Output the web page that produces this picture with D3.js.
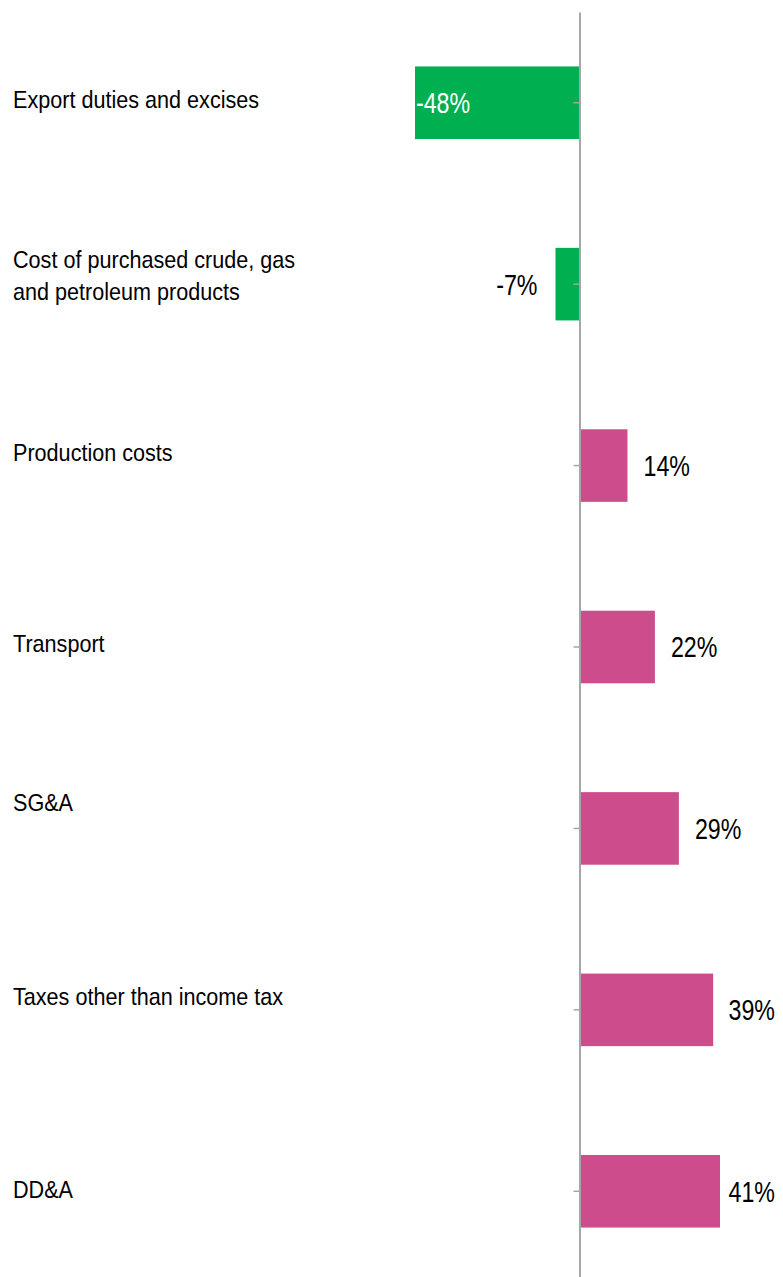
<!DOCTYPE html>
<html>
<head>
<meta charset="utf-8">
<script src="https://cdn.jsdelivr.net/npm/d3@7"></script>
<style>
  html, body { margin: 0; padding: 0; background: #ffffff; }
  svg { display: block; }
  text { font-family: "Liberation Sans", Arial, sans-serif; }
</style>
</head>
<body>
<svg id="chart" width="783" height="1277"></svg>
<script>
// Cost items and their year-on-year change, %
const categories = [
  "Export duties and excises",
  "Cost of purchased crude, gas\nand petroleum products",
  "Production costs",
  "Transport",
  "SG&A",
  "Taxes other than income tax",
  "DD&A"
];
const changes = [-48, -7, 14, 22, 29, 39, 41];
const valueLabels = ["-48%", "-7%", "14%", "22%", "29%", "39%", "41%"];

// Baseline shift of each category caption relative to its row centre (px)
const captionShift = [5, 0, -5, 5, -17, -5, 7];

const W = 783, H = 1277;
const zeroX = 579.5;
const svg = d3.select("#chart");

// condensed typeface look: horizontal squeeze of the text
const CAP_SQUEEZE = 0.9;
const VAL_SQUEEZE = 0.8;

const x = d3.scaleLinear()
  .domain([-48, 41])
  .range([zeroX - 48 * 3.427, zeroX + 41 * 3.427]);

const y = d3.scaleBand()
  .domain(categories)
  .range([12, 1282])
  .paddingInner(0.6)
  .paddingOuter(0.3);

const GREEN = "#00b050";
const PINK = "#cc4c8c";

const rows = categories.map((c, i) => ({ cat: c, v: changes[i], label: valueLabels[i], shift: captionShift[i] }));

// bars
svg.append("g").selectAll("rect")
  .data(rows)
  .join("rect")
  .attr("x", d => x(Math.min(0, d.v)))
  .attr("width", d => Math.abs(x(d.v) - x(0)))
  .attr("y", d => y(d.cat))
  .attr("height", y.bandwidth())
  .attr("fill", d => d.v < 0 ? GREEN : PINK);

// vertical zero axis with small ticks on the left
const axis = svg.append("g")
  .attr("transform", `translate(${x(0)},0)`)
  .call(d3.axisLeft(y).tickSize(6).tickSizeOuter(0).tickFormat(""));
axis.select(".domain").attr("stroke", "#a6a6a6").attr("stroke-width", 2);
axis.selectAll(".tick line").attr("stroke", "#a6a6a6").attr("stroke-width", 1.5);

// category captions on the left
svg.append("g").selectAll("text")
  .data(rows)
  .join("text")
  .attr("font-size", 24)
  .attr("fill", "#000")
  .each(function(d) {
    const lines = d.cat.split("\n");
    const cy = y(d.cat) + y.bandwidth() / 2;
    const lh = 32;
    const first = cy + d.shift - (lines.length - 1) * lh / 2;
    d3.select(this)
      .attr("transform", `translate(13,${first}) scale(${CAP_SQUEEZE},1)`)
      .selectAll("tspan")
      .data(lines)
      .join("tspan")
      .attr("x", 0)
      .attr("y", (l, j) => j * lh)
      .text(l => l);
  });

// value labels
svg.append("g").selectAll("text")
  .data(rows)
  .join("text")
  .attr("font-size", 29)
  .attr("dy", "0.36em")
  .text(d => d.label)
  .each(function(d) {
    const t = d3.select(this);
    const w = this.getComputedTextLength() * VAL_SQUEEZE;
    const cy = y(d.cat) + y.bandwidth() / 2;
    let px, fill = "#000";
    if (d.v <= -20) {
      // long negative bar: label sits inside, at the bar's outer end
      px = x(d.v) + 1;
      fill = "#fff";
    } else if (d.v < 0) {
      px = x(d.v) - 18 - w;
    } else {
      px = Math.min(x(d.v) + 16, W - 8 - w);
    }
    t.attr("fill", fill)
      .attr("transform", `translate(${px},${cy}) scale(${VAL_SQUEEZE},1)`);
  });
</script>
</body>
</html>
